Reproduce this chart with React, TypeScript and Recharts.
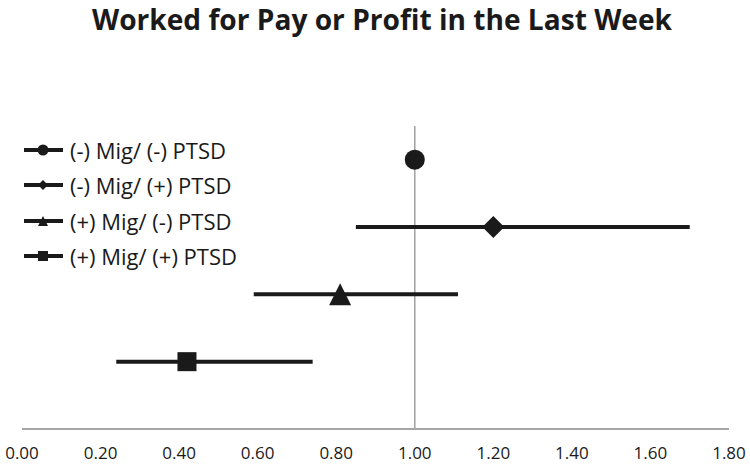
import React from "react";
import { ScatterChart, Scatter, XAxis, YAxis, ErrorBar, ReferenceLine } from "recharts";

const titleText = "Worked for Pay or Profit in the Last Week";
const groups = ["(-) Mig/ (-) PTSD", "(-) Mig/ (+) PTSD", "(+) Mig/ (-) PTSD", "(+) Mig/ (+) PTSD"];
const estimates = [1.0, 1.2, 0.81, 0.42];
const lower = [1.0, 0.85, 0.59, 0.24];
const upper = [1.0, 1.7, 1.11, 0.74];
const rows = [4, 3, 2, 1];
const markers = ["circle", "diamond", "triangle", "square"];
const xTicks = [0, 0.2, 0.4, 0.6, 0.8, 1.0, 1.2, 1.4, 1.6, 1.8];

const INK = "#1a1a1a";
const FONT = "'Open Sans', 'DejaVu Sans', sans-serif";

function Marker({ kind, cx, cy, s }: { kind: string; cx: number; cy: number; s: number }) {
  const h = s / 2;
  if (kind === "circle") return <circle cx={cx} cy={cy} r={h} fill={INK} />;
  if (kind === "diamond")
    return <polygon points={`${cx},${cy - h} ${cx + h},${cy} ${cx},${cy + h} ${cx - h},${cy}`} fill={INK} />;
  if (kind === "triangle")
    return <polygon points={`${cx},${cy - h} ${cx + h},${cy + h} ${cx - h},${cy + h}`} fill={INK} />;
  return <rect x={cx - h} y={cy - h} width={s} height={s} fill={INK} />;
}

const seriesData = groups.map((g, i) => [
  { x: estimates[i], y: rows[i], err: [estimates[i] - lower[i], upper[i] - estimates[i]] },
]);

const shapeSizes = [20, 22, 22, 19];

function LegendContent() {
  return (
    <div style={{ fontFamily: FONT }}>
      {groups.map((g, i) => (
        <div key={g} style={{ display: "flex", alignItems: "center", height: 35.5 }}>
          <svg width={64} height={20} style={{ display: "block" }}>
            <line x1={24} y1={10} x2={63} y2={10} stroke={INK} strokeWidth={4} />
            <Marker kind={markers[i]} cx={43} cy={10} s={i === 0 ? 11 : 10} />
          </svg>
          <span style={{ marginLeft: 6, fontSize: 22, lineHeight: "24px", color: INK, whiteSpace: "nowrap" }}>{g}</span>
        </div>
      ))}
    </div>
  );
}

export default function App() {
  return (
    <div style={{ position: "absolute", left: 0, top: 0, width: 750, height: 464, background: "#fff" }}>
      <div style={{ position: "absolute", left: 0, top: 0 }}>
        <ScatterChart width={750} height={464} margin={{ top: 126, left: 22, right: 21, bottom: 5 }}>
          <XAxis
            type="number"
            dataKey="x"
            domain={[0, 1.8]}
            ticks={xTicks}
            interval={0}
            tickFormatter={(v: number) => v.toFixed(2)}
            tickLine={false}
            axisLine={{ stroke: "#a6a6a6", strokeWidth: 2 }}
            tick={{ fill: INK, fontSize: 17, fontFamily: FONT }}
            tickMargin={12}
            height={30}
            allowDataOverflow
          />
          <YAxis type="number" dataKey="y" domain={[0, 4.5]} hide />
          <ReferenceLine x={1} stroke="#a0a0a0" strokeWidth={1.5} />
          {groups.map((g, i) => (
            <Scatter
              key={g}
              name={g}
              data={seriesData[i]}
              fill={INK}
              isAnimationActive={false}
              shape={(p: any) => <Marker kind={markers[i]} cx={p.cx} cy={p.cy} s={shapeSizes[i]} />}
            >
              {i > 0 && (
                <ErrorBar dataKey="err" direction="x" width={0} strokeWidth={4} stroke={INK} />
              )}
            </Scatter>
          ))}
        </ScatterChart>
      </div>
      <svg width={750} height={50} style={{ position: "absolute", left: 0, top: 0 }}>
        <text
          x={382}
          y={30}
          textAnchor="middle"
          fontFamily={FONT}
          fontWeight={700}
          fontSize={29}
          fill={INK}
          textLength={580}
          lengthAdjust="spacingAndGlyphs"
        >
          {titleText}
        </text>
      </svg>
      <div style={{ position: "absolute", left: 0, top: 132 }}>
        <LegendContent />
      </div>
    </div>
  );
}
